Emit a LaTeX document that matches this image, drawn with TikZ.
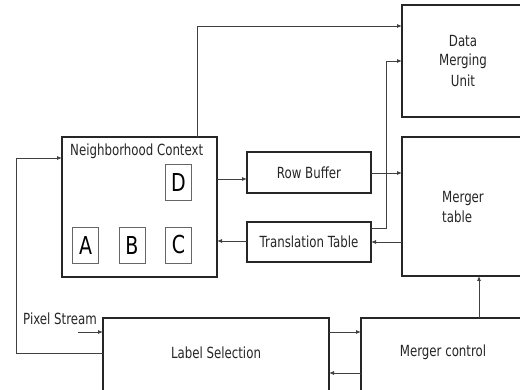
\documentclass[tikz,border=0pt]{standalone}
\usepackage{fontspec}
\usepackage{graphicx}
\setmainfont{DejaVu Sans}
\usetikzlibrary{arrows.meta,calc}
\newcommand{\vs}[1]{\scalebox{1}[1.3]{#1}}
\begin{document}
\begin{tikzpicture}[x=1pt,y=-1pt,
  box/.style={draw=black!85,line width=1.8pt,rectangle,inner sep=0pt,outer sep=0pt,fill=white},
  lbox/.style={draw=black!60,line width=0.9pt,rectangle,inner sep=0pt,outer sep=0pt,
     minimum width=26pt,minimum height=36pt,font=\fontsize{19}{22}\selectfont},
  txt/.style={font=\fontsize{11.8}{14}\selectfont,text=black!85,inner sep=0pt},
  con/.style={draw=black!75,line width=0.8pt},
  arr/.style={con,-{Latex[length=5pt,width=4pt]}}]
\useasboundingbox (0,0) rectangle (520,390);
\clip (0,0) rectangle (520,390);
% boxes
\node[box,minimum width=155pt,minimum height=140pt] (nc) at (139.5,207) {};
\node[box,minimum width=124pt,minimum height=41pt] (rb) at (309,172.5) {};
\node[box,minimum width=124pt,minimum height=40pt] (tt) at (309,242) {};
\node[box,minimum width=122pt,minimum height=112pt] (dmu) at (463,61) {};
\node[box,minimum width=122pt,minimum height=139pt] (mt) at (463,206.5) {};
\node[box,minimum width=226pt,minimum height=77pt] (ls) at (216,356.5) {};
\node[box,minimum width=163pt,minimum height=77pt] (mc) at (442.5,356.5) {};
% small boxes
\node[lbox] (bd) at (178.5,182) {\vs{D}};
\node[lbox] (ba) at (85.5,245) {\vs{A}};
\node[lbox] (bb) at (132,245) {\vs{B}};
\node[lbox] (bc) at (178.5,245) {\vs{C}};
% texts
\node[txt,anchor=west] (tnc) at (70,151) {\vs{Neighborhood Context}};
\node[txt] (trb) at (309,172.5) {\vs{Row Buffer}};
\node[txt] (ttt) at (309,242) {\vs{Translation Table}};
\node[txt,align=center] (tdmu) at (463,61) {\vs{Data}\\[5pt]\vs{Merging}\\[5pt]\vs{Unit}};
\node[txt,align=left] (tmt) at (463,207) {\vs{Merger}\\[5pt]\vs{table}};
\node[txt] (tls) at (216,353) {\vs{Label Selection}};
\node[txt] (tmc) at (443,352) {\vs{Merger control}};
\node[txt,anchor=west] (tps) at (23,319) {\vs{Pixel Stream}};
\coordinate (psin) at (78,332);
\coordinate (fbl) at (16,353);
% connectors
\draw[arr] (nc.north -| 197,0) -- (197,26) -- (dmu.west |- 0,26);
\draw[arr] (nc.east |- 0,179) -- (rb.west |- 0,179);
\draw[arr] (rb.east |- 0,173) -- (mt.west |- 0,173);
\draw[arr] (tt.east |- 0,228) -- (386,228) -- (386,61) -- (dmu.west |- 0,61);
\draw[arr] (mt.west |- 0,242) -- (tt.east |- 0,242);
\draw[arr] (tt.west |- 0,241) -- (nc.east |- 0,241);
\draw[arr] (mc.north -| 479,0) -- (mt.south -| 479,0);
\draw[arr] (ls.east |- 0,332) -- (mc.west |- 0,332);
\draw[arr] (mc.west |- 0,373) -- (ls.east |- 0,373);
\draw[arr] (psin) -- (ls.west |- psin);
\draw[arr] (ls.west |- fbl) -- (fbl) -- (16,158) -- (nc.west |- 0,158);
\end{tikzpicture}
\end{document}
